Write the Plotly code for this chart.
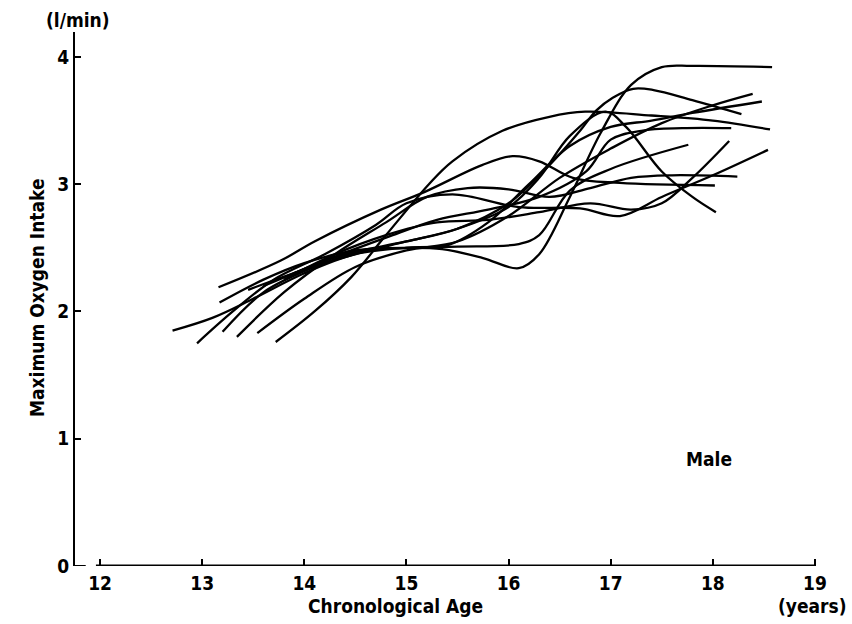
import plotly.graph_objects as go

# Longitudinal maximum oxygen intake curves (l/min) by chronological age, boys
ages = [
    [13.17, 13.6, 14.0, 14.5, 15.0, 15.35, 15.75, 16.1, 16.3, 16.6, 16.9, 17.2, 17.5, 17.8, 18.58],
    [13.72, 14.1, 14.46, 14.8, 15.22, 15.45, 15.94, 16.4, 16.75, 17.4, 18.0, 18.56],
    [13.45, 14.0, 14.5, 15.0, 15.5, 16.0, 16.3, 16.6, 16.95, 17.15, 17.5, 17.8, 18.03],
    [13.16, 13.77, 14.1, 14.75, 15.18, 15.74, 16.04, 16.3, 16.63, 17.09, 18.02],
    [12.95, 13.3, 13.7, 14.2, 14.7, 15.0, 15.45, 16.1, 16.7, 17.09, 17.5, 18.0, 18.54],
    [13.34, 13.8, 14.3, 14.8, 15.2, 15.6, 16.0, 16.4, 16.8, 17.2, 17.6, 18.24],
    [12.71, 13.1, 13.5, 14.0, 14.5, 15.0, 15.5, 16.1, 16.3, 16.6, 17.0, 17.76],
    [13.54, 14.0, 14.5, 15.0, 15.5, 16.0, 16.5, 17.0, 17.5, 18.0, 18.39],
    [13.2, 13.6, 14.1, 14.6, 15.0, 15.4, 15.8, 16.2, 16.6, 17.0, 17.4, 17.8, 18.48],
    [13.9, 14.4, 15.0, 15.5, 16.0, 16.4, 16.7, 16.86, 17.02, 17.22, 17.42, 17.8, 18.28],
    [13.6, 14.2, 14.8, 15.3, 15.8, 16.3, 16.76, 17.0, 17.3, 17.7, 18.18],
    [13.8, 14.3, 14.8, 15.3, 15.8, 16.3, 16.8, 17.2, 17.5, 17.8, 18.16],
]
vo2 = [
    [2.07, 2.25, 2.38, 2.48, 2.50, 2.49, 2.42, 2.34, 2.45, 2.9, 3.4, 3.78, 3.92, 3.93, 3.92],
    [1.76, 2.0, 2.27, 2.6, 3.0, 3.18, 3.42, 3.53, 3.57, 3.54, 3.5, 3.43],
    [2.17, 2.33, 2.45, 2.55, 2.65, 2.82, 3.05, 3.38, 3.57, 3.45, 3.1, 2.9, 2.78],
    [2.19, 2.4, 2.55, 2.8, 2.94, 3.15, 3.22, 3.18, 3.05, 3.01, 2.99],
    [1.75, 2.0, 2.25, 2.45, 2.68, 2.85, 2.92, 2.82, 2.81, 2.75, 2.9, 3.07, 3.27],
    [1.80, 2.15, 2.45, 2.7, 2.9, 2.97, 2.96, 2.9, 2.97, 3.05, 3.07, 3.06],
    [1.85, 1.95, 2.1, 2.3, 2.45, 2.5, 2.51, 2.53, 2.6, 2.95, 3.12, 3.31],
    [1.83, 2.1, 2.35, 2.48, 2.55, 2.75, 3.05, 3.28, 3.48, 3.62, 3.71],
    [1.84, 2.15, 2.35, 2.48, 2.5, 2.52, 2.7, 3.0, 3.3, 3.45, 3.5, 3.56, 3.65],
    [2.3, 2.45, 2.55, 2.65, 2.85, 3.15, 3.42, 3.58, 3.68, 3.75, 3.74, 3.66, 3.55],
    [2.2, 2.4, 2.58, 2.72, 2.8, 2.9, 3.1, 3.35, 3.42, 3.44, 3.44],
    [2.25, 2.45, 2.6, 2.7, 2.72, 2.78, 2.85, 2.8, 2.85, 3.05, 3.34],
]

x_ticks = [12, 13, 14, 15, 16, 17, 18, 19]
y_ticks = [0, 1, 2, 3, 4]

FONT = "Liberation Sans Narrow, DejaVu Sans Condensed, Arial Narrow, sans-serif"
INK = "#000000"
TXT = dict(family=FONT, size=19, color=INK, weight="bold")

fig = go.Figure()
for xs, ys in zip(ages, vo2):
    fig.add_trace(go.Scatter(
        x=xs, y=ys, mode="lines",
        line=dict(color=INK, width=2.3, shape="spline", smoothing=1.0),
        showlegend=False, hoverinfo="skip",
    ))

X0, X1 = 11.755, 19.01
Y0, Y1 = 0.0, 4.196

# detached x axis baseline and the short foot of the y axis
fig.add_shape(type="line", x0=11.96, x1=19.01, y0=0, y1=0,
              line=dict(color=INK, width=3), layer="above")
fig.add_shape(type="line", x0=X0, x1=11.86, y0=0, y1=0,
              line=dict(color=INK, width=2), layer="above")

fig.update_layout(
    width=852, height=624,
    margin=dict(l=75, r=36, t=32, b=58),
    paper_bgcolor="white", plot_bgcolor="white",
    font=TXT,
    xaxis=dict(
        range=[X0, X1], tickvals=x_ticks, ticktext=[str(v) for v in x_ticks],
        ticks="inside", ticklen=7, tickwidth=2, tickcolor=INK,
        ticklabelstandoff=4,
        showline=False, showgrid=False, zeroline=False,
        tickfont=TXT,
    ),
    yaxis=dict(
        range=[Y0, Y1], tickvals=y_ticks, ticktext=[str(v) for v in y_ticks],
        ticks="inside", ticklen=6, tickwidth=2, tickcolor=INK,
        showline=True, linecolor=INK, linewidth=2,
        showgrid=False, zeroline=False,
        tickfont=TXT,
    ),
    annotations=[
        dict(text="Chronological Age", x=395, y=606),
        dict(text="(years)", x=812, y=606),
        dict(text="Maximum Oxygen Intake", x=37, y=298, textangle=-90),
        dict(text="(l/min)", x=78, y=20),
        dict(text="Male", x=709, y=459),
    ],
)

# annotation positions above are given in page pixels; convert to paper fractions
plot_w = 852 - 75 - 36
plot_h = 624 - 32 - 58
for ann in fig.layout.annotations:
    ann.update(xref="paper", yref="paper", showarrow=False,
               xanchor="center", yanchor="middle", font=TXT,
               x=(ann.x - 75) / plot_w, y=(624 - 58 - ann.y) / plot_h)

fig.write_html("out.html")
